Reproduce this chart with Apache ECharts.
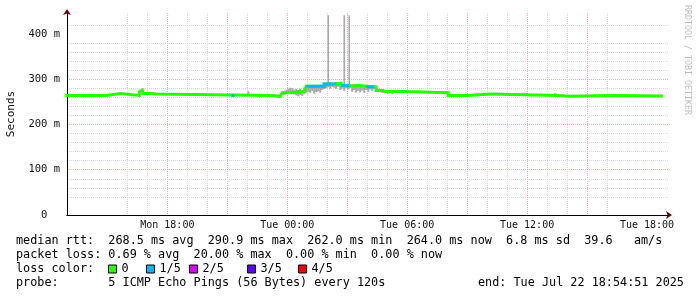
<!DOCTYPE html>
<html><head><meta charset="utf-8">
<script src="https://cdn.jsdelivr.net/npm/echarts@6/dist/echarts.min.js"></script>
<style>html,body{margin:0;padding:0;background:#fff}#c{width:697px;height:297px}</style>
</head><body><div id="c"></div>
<script>
// x values are hours since Mon 00:00
const xMinHour = 12.98, xMaxHour = 43.05;
const minorHourTicks = [14,16,17,19,20,22,23,25,26,28,29,31,32,34,35,37,38,40,41];
const majorHourTicks = [15,18,21,24,27,30,33,36,39,42];
const labelHours = [18,24,30,36,42];
const labelTexts = ['Mon 18:00','Tue 00:00','Tue 06:00','Tue 12:00','Tue 18:00'];
const yMaxMs = 446;
const minorMsTicks = [20,40,60,80,120,140,160,180,220,240,260,280,320,340,360,380,420,440];
const majorMsTicks = [0,100,200,300,400];

// median rtt (ms), loss 0 -> green
const medianGreen = [
  [12.9,264],[14.95,268],[15.65,264],[16.6,272],[16.65,276],[16.75,272],[16.8,268],[17.0,266],
  [17.1,268],[17.25,267],[17.4,264],[23.15,262],[23.65,265],[23.75,270],[24.15,273],[24.85,275],
  [24.95,284],[25.85,289],[26.35,291],[26.7,286],[27.05,285],[27.3,286],[27.55,283],[28.45,275],
  [28.8,272],[29.0,273],[29.35,270],[32.05,264],[33.05,267],[34.15,264],[37.55,262],[38.15,264],
  [40.3,263],[42.8,263]
];
// median rtt (ms) where loss 1/5 -> blue
const medianBlue = [
  [21.2,264],[21.3,264],[21.35,null],
  [24.95,284],[25.85,289],[26.4,289],[26.45,null],
  [26.7,286],[27.05,286],[27.1,null],
  [27.95,283],[28.3,283],[28.35,null]
];
// smoke: [hour, min ms, max ms]
const smoke = [
  [22.05,264,273],[37.4,264,269],
  [23.75,266,272],[23.85,265,274],[23.95,268,276],[24.05,269,279],[24.15,268,281],[24.25,270,280],
  [24.35,266,277],[24.45,264,278],[24.55,262,276],[24.65,265,279],[24.75,263,276],[24.85,267,282],
  [24.95,270,285],[25.05,272,284],[25.15,270,283],[25.25,274,286],[25.35,268,285],[25.45,271,284],
  [25.55,273,286],[25.65,270,285],[25.75,276,287],[25.85,278,290],[25.95,280,291],[26.05,282,292],
  [26.15,279,293],[26.25,283,292],[26.35,281,292],[26.45,279,293],[26.55,283,292],[26.65,276,290],
  [26.75,279,289],[26.85,274,290],[26.95,280,288],[27.05,277,289],[27.15,281,289],[27.25,272,288],
  [27.35,276,289],[27.45,270,287],[27.55,274,286],[27.65,271,288],[27.75,275,285],[27.85,270,286],
  [27.95,276,287],[28.05,272,285],[28.15,277,286],[28.25,274,284],[28.35,278,285],[28.45,273,283],
  [28.55,271,279],[28.65,272,278],[28.75,270,277],[28.85,269,276],[28.95,270,275],[29.05,268,276],
  [29.15,269,274],[29.25,267,274]
];
// single-ping outliers: [hour, from ms, to ms]
const spikes = [[26.05,285,441],[26.85,283,441],[27.1,280,441]];

const lossNames = ['0','1/5','2/5','3/5','4/5'];
const lossColors = ['#26ff00','#00b8ff','#dd00ff','#5e00ff','#ff0000'];
const legendLefts = [108,146,189,247,298];

const statLines = [
  'median rtt:  268.5 ms avg  290.9 ms max  262.0 ms min  264.0 ms now  6.8 ms sd  39.6   am/s',
  'packet loss: 0.69 % avg  20.00 % max  0.00 % min  0.00 % now',
  'loss color:',
  'probe:       5 ICMP Echo Pings (56 Bytes) every 120s'
];
const endText = 'end: Tue Jul 22 18:54:51 2025';
const sideText = 'RRDTOOL / TOBI OETIKER';

const MONO = 'DejaVu Sans Mono';
const chart = echarts.init(document.getElementById('c'), null, {renderer:'canvas'});

function rectRender(widthHours, fixedPx, color){
  return function(params, api){
    const x = api.value(0), lo = api.value(1), hi = api.value(2);
    const top = api.coord([x, hi]), bot = api.coord([x, lo]);
    const w = fixedPx || api.size([widthHours, 0])[0];
    return {type:'rect', shape:{x: top[0]-w/2, y: top[1], width: w, height: Math.max(1, bot[1]-top[1])},
      style:{fill: color}};
  };
}

const gridDash = [1,1];
const minorColor = '#d6d6d6', majorColor = '#f2aaaa';
const option = {
  animation: false,
  backgroundColor: '#fff',
  grid: {left: 67, right: 29, top: 13, bottom: 82, containLabel:false, outerBoundsMode:'none'},
  xAxis: [
    {type:'value', min:xMinHour, max:xMaxHour, position:'bottom', z:1,
     axisLine:{show:true, onZero:false, lineStyle:{color:'#000', width:1}},
     axisTick:{show:false, customValues:minorHourTicks},
     axisLabel:{show:false},
     splitLine:{show:true, showMinLine:false, showMaxLine:false, lineStyle:{color:minorColor, type:gridDash, width:1}}},
    {type:'value', min:xMinHour, max:xMaxHour, position:'bottom', z:0,
     axisLine:{show:true, onZero:false, lineStyle:{color:'#7a0000', width:1}, symbol:['none','arrow'], symbolSize:[6,6], symbolOffset:[0,4]},
     axisTick:{show:false, customValues:majorHourTicks},
     axisLabel:{show:true, customValues:labelHours, margin:5, color:'#111', fontFamily:MONO, fontSize:10,
       formatter: v => { const i = labelHours.findIndex(h => Math.abs(h - v) < 1e-6); return i >= 0 ? labelTexts[i] : ''; }},
     splitLine:{show:true, showMinLine:false, showMaxLine:false, lineStyle:{color:majorColor, type:gridDash, width:1}}}
  ],
  yAxis: [
    {type:'value', min:0, max:yMaxMs, position:'left', z:1,
     name:'Seconds', nameLocation:'middle', nameGap:50,
     nameTextStyle:{fontFamily:MONO, fontSize:11, color:'#111'},
     axisLine:{show:true, onZero:false, lineStyle:{color:'#000', width:1}},
     axisTick:{show:false, customValues:minorMsTicks}, axisLabel:{show:false},
     splitLine:{show:true, showMinLine:false, showMaxLine:false, lineStyle:{color:minorColor, type:gridDash, width:1}}},
    {type:'value', min:0, max:yMaxMs, position:'left', z:0,
     axisLine:{show:true, onZero:false, lineStyle:{color:'#7a0000', width:1}, symbol:['none','arrow'], symbolSize:[6,6], symbolOffset:[0,4]},
     axisTick:{show:false, customValues:majorMsTicks},
     axisLabel:{show:true, customValues:majorMsTicks, margin:7, color:'#111', fontFamily:MONO, fontSize:10.5,
       formatter: v => v === 0 ? '0  ' : (v + ' m')},
     splitLine:{show:true, showMinLine:false, showMaxLine:false, lineStyle:{color:majorColor, type:gridDash, width:1}}}
  ],
  legend: lossNames.map((n, i) => ({
    data:[n], left: legendLefts[i], top: 263, padding: 0, itemWidth: 8, itemHeight: 8, itemGap: 0,
    icon:'rect', selectedMode:false,
    itemStyle:{borderColor:'#000', borderWidth:1},
    textStyle:{fontFamily:MONO, fontSize:11.8, color:'#000'}
  })),
  series: [
    {type:'custom', name:'smoke', xAxisIndex:0, yAxisIndex:0, clip:true, z:2, silent:true,
     renderItem: rectRender(0.1, 0, '#a6a6a6'), data: smoke},
    {type:'custom', name:'spikes', xAxisIndex:0, yAxisIndex:0, clip:true, z:2, silent:true,
     renderItem: rectRender(0, 1.4, '#a0a0a0'), data: spikes},
    {type:'line', name:lossNames[0], color:lossColors[0], xAxisIndex:0, yAxisIndex:0, step:'end', symbol:'none', z:3,
     lineStyle:{width:3, color:lossColors[0], join:'miter', cap:'butt'}, data: medianGreen},
    {type:'line', name:lossNames[1], color:lossColors[1], xAxisIndex:0, yAxisIndex:0, step:'end', symbol:'none', z:4,
     connectNulls:false, lineStyle:{width:3, color:lossColors[1], join:'miter', cap:'butt'}, data: medianBlue},
    {type:'line', name:lossNames[2], color:lossColors[2], step:'end', symbol:'none', data: []},
    {type:'line', name:lossNames[3], color:lossColors[3], step:'end', symbol:'none', data: []},
    {type:'line', name:lossNames[4], color:lossColors[4], step:'end', symbol:'none', data: []}
  ],
  graphic: [
    ...statLines.map((t, i) => ({type:'text', left:16, top: 235 + i*14, silent:true,
      style:{text:t, font:'11.8px "DejaVu Sans Mono"', fill:'#000'}})),
    {type:'text', left:478, top:277, silent:true, style:{text:endText, font:'11.8px "DejaVu Sans Mono"', fill:'#000'}},
    {type:'text', x:691, y:5, rotation:-Math.PI/2, silent:true,
     style:{text:sideText, font:'8.3px "DejaVu Sans Mono"', fill:'#bdbdbd', textAlign:'left', textVerticalAlign:'top'}}
  ]
};
chart.setOption(option);
</script></body></html>
